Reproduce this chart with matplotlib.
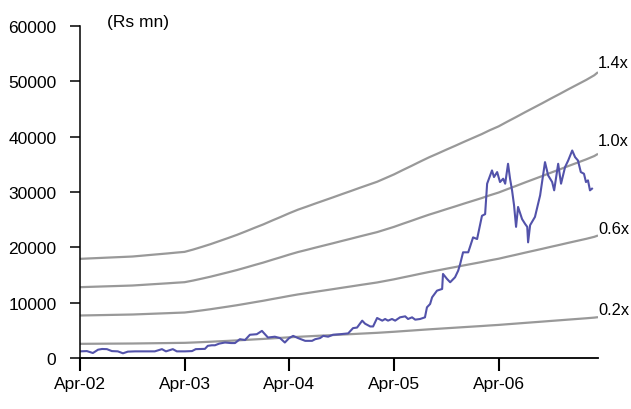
import matplotlib
matplotlib.use("Agg")
import matplotlib.pyplot as plt
import matplotlib.dates as mdates
import pandas as pd

plt.rcParams['font.family'] = ['Liberation Sans', 'DejaVu Sans']

# Earnings base (1.0x band), monthly
base_dates = list(pd.date_range('2002-04-01', '2007-03-01', freq='MS')) + [pd.Timestamp('2007-03-14')]
base_vals = [
    12800, 12850, 12900, 12950, 13000, 13050, 13100, 13200, 13300, 13400, 13500, 13600,
    13700, 14000, 14350, 14700, 15100, 15500, 15900, 16350, 16800, 17250, 17750, 18200,
    18700, 19150, 19550, 19950, 20350, 20750, 21150, 21550, 21950, 22350, 22750, 23200,
    23700, 24250, 24800, 25350, 25900, 26400, 26900, 27400, 27900, 28400, 28900, 29400,
    29900, 30500, 31100, 31700, 32300, 32900, 33500, 34100, 34700, 35300, 35900, 36500,
    36900,
]
multipliers = [1.4, 1.0, 0.6, 0.2]
band_labels = ['1.4x', '1.0x', '0.6x', '0.2x']

# Market cap (Rs mn)
mcap_dates = [
    '2002-04-01', '2002-04-25', '2002-05-16', '2002-06-03', '2002-06-17', '2002-07-04',
    '2002-07-21', '2002-08-11', '2002-08-29', '2002-09-15', '2002-10-10', '2002-11-14',
    '2002-12-18', '2003-01-12', '2003-01-26', '2003-02-19', '2003-03-05', '2003-04-02',
    '2003-04-27', '2003-05-10', '2003-06-11', '2003-06-21', '2003-07-05', '2003-07-16',
    '2003-07-31', '2003-08-20', '2003-09-10', '2003-09-24', '2003-10-11', '2003-10-29',
    '2003-11-15', '2003-12-09', '2003-12-27', '2004-01-17', '2004-02-10', '2004-02-28',
    '2004-03-16', '2004-03-31', '2004-04-14', '2004-05-01', '2004-05-26', '2004-06-19',
    '2004-06-30', '2004-07-17', '2004-07-28', '2004-08-14', '2004-08-31', '2004-09-25',
    '2004-10-23', '2004-11-09', '2004-11-23', '2004-12-11', '2004-12-21', '2005-01-08',
    '2005-01-18', '2005-02-01', '2005-02-19', '2005-03-01', '2005-03-11', '2005-03-25',
    '2005-04-05', '2005-04-22', '2005-05-10', '2005-05-20', '2005-06-03', '2005-06-14',
    '2005-07-01', '2005-07-18', '2005-07-25', '2005-08-05', '2005-08-12', '2005-08-29',
    '2005-09-16', '2005-09-19', '2005-10-03', '2005-10-14', '2005-10-31', '2005-11-11',
    '2005-11-18', '2005-11-28', '2005-12-16', '2005-12-23', '2006-01-02', '2006-01-16',
    '2006-02-02', '2006-02-13', '2006-02-20', '2006-03-09', '2006-03-16', '2006-03-27',
    '2006-04-06', '2006-04-17', '2006-04-24', '2006-05-04', '2006-05-11', '2006-05-18',
    '2006-05-25', '2006-06-01', '2006-06-08', '2006-06-22', '2006-07-03', '2006-07-10',
    '2006-07-13', '2006-07-20', '2006-08-06', '2006-08-24', '2006-09-10', '2006-09-21',
    '2006-10-05', '2006-10-12', '2006-10-26', '2006-11-05', '2006-11-19', '2006-11-30',
    '2006-12-14', '2006-12-24', '2007-01-03', '2007-01-13', '2007-01-24', '2007-01-31',
    '2007-02-07', '2007-02-14', '2007-02-21',
]
mcap_vals = [
    1200, 1250, 900, 1500, 1630, 1600,
    1250, 1200, 850, 1150, 1200, 1200,
    1200, 1600, 1200, 1600, 1200, 1200,
    1250, 1600, 1650, 2200, 2300, 2300,
    2600, 2800, 2700, 2700, 3400, 3250,
    4200, 4300, 4900, 3700, 3850, 3600,
    2800, 3600, 4000, 3600, 3100, 3100,
    3400, 3600, 4000, 3850, 4200, 4300,
    4450, 5400, 5500, 6750, 6200, 5700,
    5700, 7230, 6750, 7050, 6750, 7050,
    6750, 7350, 7530, 7050, 7350, 6930,
    7050, 7350, 9160, 9760, 10970, 12170,
    12480, 15190, 14290, 13690, 14590, 15790,
    17000, 19100, 19100, 20200, 21800, 21500,
    25700, 26000, 31500, 33900, 32700, 33600,
    31800, 32400, 31500, 35100, 32400, 30300,
    27600, 23700, 27300, 25100, 24200, 23700,
    20900, 24000, 25500, 29400, 35400, 33000,
    31800, 30300, 35100, 31500, 34500, 35700,
    37500, 36300, 35700, 33600, 33300, 31800,
    32100, 30300, 30600,
]

yticks = [0, 10000, 20000, 30000, 40000, 50000, 60000]
xtick_dates = ['2002-04-01', '2003-04-01', '2004-04-01', '2005-04-01', '2006-04-01']
unit_label = '(Rs mn)'

fig = plt.figure(figsize=(6.31, 4.10), dpi=100)
ax = fig.add_axes([80 / 631, 1 - 359 / 410, (598 - 80) / 631, (359 - 27) / 410])

label_offsets = [10, 13, 7, 8]  # px above band end
for m, lab, off in zip(multipliers, band_labels, label_offsets):
    vals = [m * v for v in base_vals]
    ax.plot(base_dates, vals, color='#999999', lw=1.6, solid_capstyle='butt')
    ax.annotate(lab, xy=(1.0, vals[-1]), xycoords=('axes fraction', 'data'),
                xytext=(0, off), textcoords='offset pixels', ha='left', va='center',
                fontsize=11.8, color='black', annotation_clip=False)

ax.plot(pd.to_datetime(mcap_dates), mcap_vals, color='#5252AA', lw=1.5)

ax.set_ylim(0, 60000)
ax.set_xlim(pd.Timestamp('2002-04-01'), pd.Timestamp('2007-03-14'))
ax.set_yticks(yticks)
ax.set_yticklabels([str(t) for t in yticks], fontsize=12.5)
ax.set_xticks(pd.to_datetime(xtick_dates))
ax.xaxis.set_major_formatter(mdates.DateFormatter('%b-%y'))
for t in ax.get_xticklabels():
    t.set_fontsize(12.5)

ax.spines['top'].set_visible(False)
ax.spines['right'].set_visible(False)
ax.spines['left'].set_linewidth(1.1)
ax.spines['bottom'].set_linewidth(1.3)
ax.tick_params(axis='y', direction='out', length=7, width=1.1, pad=10)
ax.tick_params(axis='x', direction='out', length=9, width=1.5, pad=4)

fig.text(107 / 631, 1 - 22 / 410, unit_label, fontsize=12.5, ha='left', va='center')

fig.savefig('out.png', dpi=100)
